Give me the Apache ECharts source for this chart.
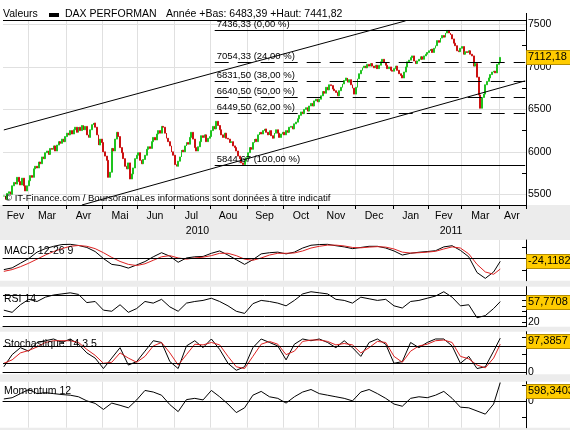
<!DOCTYPE html>
<html>
<head>
<meta charset="utf-8">
<script src="https://cdn.jsdelivr.net/npm/echarts@6/dist/echarts.min.js"></script>
<style>
html, body { margin: 0; padding: 0; background: #ececec; }
#chart { width: 570px; height: 430px; }
</style>
</head>
<body>
<div id="chart"></div>
<script>
var FONT = "'Liberation Sans', Arial, sans-serif";
var GREEN = '#1ec31e', RED = '#cc1111', SIGNAL = '#dd2222', GRIDC = '#e0e0e0';
var monthNames = ['Jan', 'Fev', 'Mar', 'Avr', 'Mai', 'Jun', 'Jul', 'Aou', 'Sep', 'Oct', 'Nov', 'Dec'];

// daily closes, one array per month
var closeFeb10 = [5480, 5440, 5510, 5530, 5500, 5600, 5640, 5620, 5700, 5650, 5610, 5690, 5600, 5540, 5600];
var closeMar10 = [5660, 5720, 5700, 5800, 5830, 5810, 5880, 5860, 5940, 5920, 5990, 6010, 5970, 6040, 6030, 6070, 6010, 6080, 6120, 6100, 6150, 6120, 6180];
var closeApr10 = [6220, 6200, 6250, 6210, 6260, 6290, 6230, 6290, 6250, 6310, 6260, 6300, 6200, 6170, 6260, 6320, 6340, 6290, 6200, 6080, 6150, 6110];
var closeMay10 = [6000, 5950, 5900, 5700, 5760, 6040, 6010, 6150, 6230, 6180, 6050, 5990, 5920, 5830, 5800, 5870, 5680, 5740, 5810, 5920, 5960];
var closeJun10 = [5990, 5900, 5860, 5910, 5960, 6030, 6060, 6040, 6120, 6170, 6140, 6210, 6250, 6220, 6300, 6290, 6220, 6160, 6120, 6070, 6000, 5960];
var closeJul10 = [5850, 5830, 5890, 5940, 6020, 6000, 6070, 6110, 6090, 6170, 6230, 6150, 6050, 6010, 6060, 6120, 6190, 6170, 6200, 6120, 6160, 6180];
var closeAug10 = [6250, 6300, 6270, 6360, 6310, 6260, 6200, 6170, 6220, 6160, 6150, 6110, 6120, 6070, 6050, 6010, 5950, 5920, 5870, 5850, 5890, 5930];
var closeSep10 = [5990, 6050, 6030, 6110, 6150, 6120, 6200, 6230, 6210, 6250, 6270, 6230, 6200, 6250, 6190, 6160, 6220, 6260, 6220, 6170, 6210, 6230];
var closeOct10 = [6200, 6250, 6230, 6290, 6300, 6270, 6330, 6350, 6390, 6430, 6470, 6450, 6500, 6520, 6480, 6540, 6570, 6540, 6600, 6620, 6590];
var closeNov10 = [6620, 6660, 6710, 6690, 6760, 6730, 6790, 6780, 6740, 6720, 6700, 6660, 6720, 6760, 6800, 6840, 6870, 6820, 6850, 6790, 6750, 6680];
var closeDec10 = [6760, 6860, 6920, 6960, 6990, 7010, 6990, 7030, 7010, 7040, 7010, 6990, 7020, 6980, 7020, 7060, 7090, 7050, 7020, 6980, 7000, 6960, 6950];
var closeJan11 = [6980, 7010, 6960, 6920, 6900, 6870, 6940, 7000, 7060, 7080, 7110, 7130, 7070, 7040, 7070, 7090, 7120, 7090, 7130, 7150, 7170];
var closeFeb11 = [7190, 7210, 7170, 7220, 7250, 7310, 7290, 7340, 7370, 7350, 7400, 7430, 7400, 7380, 7330, 7280, 7250, 7190, 7180, 7220];
var closeMar11 = [7240, 7150, 7180, 7170, 7190, 7150, 7130, 7010, 7040, 6880, 6670, 6513.84, 6640, 6680, 6790, 6830, 6870, 6910, 6940, 6950, 6930, 7030, 7050];
var closeApr11 = [7112.18];

// Fibonacci retracement levels and the two channel lines [index, value]
var fibLevels = [7436.33, 7054.33, 6831.50, 6640.50, 6449.50, 5844.67];
var fibPct = ['0,00', '24,00', '38,00', '50,00', '62,00', '100,00'];
var fibStart = 127;
var upperChannel = [[0, 6258], [242, 7543]];
var lowerChannel = [[47, 5374], [314, 6836]];

// indicator values read every 5th session (last point = last session)
var macdLine = [-95, -80, -40, 0, 55, 85, 105, 120, 122, 112, 95, 60, 0, -50, -60, -82, -55, -26, 15, 50, 20, -32, 5, 15,
  18, 45, 65, 30, -10, -50, -10, 40, 50, 55, 40, 55, 90, 114, 120, 122, 110, 100, 85, 95, 105, 105, 90, 65,
  30, 45, 54, 60, 67, 100, 110, 70, 15, -120, -170, -115, -24.1182];
var macdSignal = [-110, -95, -70, -40, -5, 30, 60, 85, 105, 112, 105, 85, 50, 10, -25, -50, -60, -45, -15, 15, 25, 5, -5, 5,
  12, 25, 45, 45, 25, -5, -15, 5, 30, 45, 45, 48, 65, 90, 105, 115, 115, 108, 95, 92, 98, 102, 98, 82,
  55, 47, 50, 55, 62, 82, 100, 90, 40, -50, -115, -135, -90];
var rsiLine = [42, 38, 52, 62, 58, 66, 70, 72, 74, 71, 56, 58, 42, 40, 52, 38, 45, 58, 55, 62, 48, 40, 55, 58,
  60, 64, 58, 50, 40, 36, 54, 60, 58, 55, 50, 60, 72, 76, 74, 72, 62, 60, 55, 66, 63, 60, 62, 50,
  46, 58, 60, 64, 68, 76, 66, 50, 52, 28, 32, 45, 57.7708];
var stochK = [15, 50, 70, 60, 85, 90, 95, 85, 95, 80, 55, 40, 10, 40, 70, 20, 30, 60, 90, 85, 30, 10, 75, 90,
  70, 95, 65, 25, 5, 15, 70, 95, 85, 75, 35, 80, 95, 90, 95, 85, 70, 90, 70, 45, 85, 95, 80, 25,
  30, 85, 70, 85, 95, 95, 75, 25, 45, 10, 15, 60, 97.3857];
var stochD = [25, 35, 55, 62, 72, 85, 90, 90, 90, 85, 65, 48, 25, 28, 55, 40, 28, 45, 75, 85, 55, 20, 50, 80,
  78, 85, 78, 45, 15, 10, 45, 80, 88, 80, 50, 60, 88, 92, 92, 88, 78, 82, 78, 55, 70, 88, 85, 45,
  28, 60, 75, 80, 90, 92, 85, 45, 38, 20, 12, 40, 80];
var momentum = [80, 120, 250, 380, 250, 280, 250, 220, 200, 150, 20, -60, -250, -50, -120, -200, 50, 350, 300, 200, -100, -320, 60, 100,
  50, 350, 150, -80, -350, -200, 200, 320, 150, 100, -50, 150, 300, 380, 250, 200, 150, 100, 20, 300, 380, 250, 100, -80,
  -150, 100, 150, 120, 200, 320, 100, -180, -200, -300, -400, -80, 598.3403];

var closes = [].concat(closeFeb10, closeMar10, closeApr10, closeMay10, closeJun10, closeJul10, closeAug10,
  closeSep10, closeOct10, closeNov10, closeDec10, closeJan11, closeFeb11, closeMar11, closeApr11);

// trading days from 8 Feb 2010; the axis runs on into late April 2011
var days = [];
var d = new Date(2010, 1, 8);
while (days.length < 315) {
  if (d.getDay() != 0 && d.getDay() != 6) days.push(new Date(d.getTime()));
  d.setDate(d.getDate() + 1);
}
function pad(n) { return n < 10 ? '0' + n : '' + n; }
var dates = days.map(function (x) { return x.getFullYear() + '-' + pad(x.getMonth() + 1) + '-' + pad(x.getDate()); });

var monthStart = [], monthMid = [];
var first = 0;
for (var i = 0; i < days.length; i++) {
  monthStart.push(i > 0 && days[i].getMonth() != days[i - 1].getMonth());
  monthMid.push(false);
}
for (i = 1; i <= days.length; i++) {
  if (i == days.length || monthStart[i]) {
    monthMid[Math.floor((first + i - 1) / 2)] = true;
    first = i;
  }
}

var indIdx = [];
for (i = 0; i < 300; i += 5) indIdx.push(i);
indIdx.push(299);

var candles = closes.map(function (c, k) {
  var o = k ? closes[k - 1] : c;
  return [o, c, Math.min(o, c), Math.max(o, c)];
});

function fr(v, n) { return v.toFixed(n).replace('.', ','); }
function pairs(vals) { return indIdx.map(function (k, j) { return [dates[k], vals[j]]; }); }

var grids = [
  {left: 3, right: 44, top: 20.5, height: 184.5},
  {left: 3, right: 44, top: 240, height: 40.7},
  {left: 3, right: 44, top: 286.7, height: 40},
  {left: 3, right: 44, top: 331.7, height: 42.6},
  {left: 3, right: 44, top: 381.7, height: 46}
];

function xAxisFor(gi) {
  var main = gi == 0;
  return {
    type: 'category', gridIndex: gi, data: dates, boundaryGap: true,
    axisLine: {show: true, lineStyle: {color: '#000', width: 1}},
    axisTick: {show: main, length: 4, interval: function (k) { return monthStart[k]; }, lineStyle: {color: '#000'}},
    axisLabel: {
      show: main, interval: function (k) { return monthMid[k]; },
      formatter: function (v) { return monthNames[parseInt(v.slice(5, 7), 10) - 1]; },
      color: '#000', fontSize: 10.5, fontFamily: FONT, margin: 6
    },
    splitLine: {show: true, interval: function (k) { return monthStart[k]; }, lineStyle: {color: GRIDC, width: 1}}
  };
}

function yAxisFor(gi, min, max, ticks, labels) {
  return {
    type: 'value', gridIndex: gi, position: 'right', min: min, max: max,
    axisLine: {show: true, lineStyle: {color: '#000', width: 1}},
    axisTick: {show: true, inside: true, length: 4, customValues: ticks, lineStyle: {color: '#000'}},
    axisLabel: {
      show: labels.length > 0, customValues: labels, margin: 2, color: '#000', fontSize: 10.5, fontFamily: FONT,
      formatter: function (v) { return String(v); }
    },
    splitLine: {show: false}
  };
}

function refLines(vals, color) {
  return {
    silent: true, symbol: 'none', animation: false,
    label: {show: false},
    lineStyle: {color: color || '#000', width: 1, type: 'solid'},
    emphasis: {disabled: true},
    data: vals.map(function (v) { return {yAxis: v}; })
  };
}

function lineSeries(gi, vals, color, marks) {
  var s = {
    type: 'line', xAxisIndex: gi, yAxisIndex: gi, data: pairs(vals), symbol: 'none',
    lineStyle: {color: color, width: 1}, itemStyle: {color: color}, z: 3, silent: true
  };
  if (marks) s.markLine = marks;
  return s;
}

var fibData = fibLevels.map(function (v, k) {
  var solid = k == 0 || k == fibLevels.length - 1;
  return [
    {name: fr(v, 2) + ' (' + fibPct[k] + ' %)', coord: [dates[fibStart], v], lineStyle: {type: solid ? 'solid' : [14, 9]}},
    {coord: [dates[dates.length - 1], v]}
  ];
});
[upperChannel, lowerChannel].forEach(function (c) {
  fibData.push([
    {name: '', coord: [dates[c[0][0]], c[0][1]], label: {show: false}},
    {coord: [dates[c[1][0]], c[1][1]]}
  ]);
});

var chart = echarts.init(document.getElementById('chart'));
chart.setOption({
  animation: false,
  backgroundColor: 'transparent',
  grid: grids,
  xAxis: [0, 1, 2, 3, 4].map(xAxisFor),
  yAxis: [
    yAxisFor(0, 5374, 7547, [5500, 5750, 6000, 6250, 6500, 6750, 7000, 7250, 7500], [5500, 6000, 6500, 7000, 7500]),
    yAxisFor(1, -190, 159, [-100, 100], []),
    yAxisFor(2, 11.5, 85.3, [20, 30, 40, 50, 60, 70], [20]),
    yAxisFor(3, -6.6, 116, [0, 25, 50, 75, 100], [0]),
    yAxisFor(4, -829, 627, [-500, 500], [0])
  ],
  series: [
    {
      type: 'line', xAxisIndex: 0, yAxisIndex: 0, data: [], z: 1,
      markLine: Object.assign(refLines([5500, 6000, 6500, 7000, 7500], GRIDC), {z: 1})
    },
    {
      type: 'candlestick', xAxisIndex: 0, yAxisIndex: 0, data: candles, barWidth: 1.4, silent: true,
      itemStyle: {color: GREEN, color0: RED, borderColor: GREEN, borderColor0: RED, borderWidth: 1},
      markLine: {
        silent: true, symbol: 'none', animation: false,
        lineStyle: {color: '#000', width: 1, type: 'solid'},
        label: {show: true, position: 'insideStartTop', formatter: '{b}', color: '#000', fontSize: 9.5, fontFamily: FONT, distance: [2, 1]},
        emphasis: {disabled: true},
        data: fibData
      }
    },
    lineSeries(1, macdLine, '#000', refLines([0])),
    lineSeries(1, macdSignal, SIGNAL),
    lineSeries(2, rsiLine, '#000', refLines([70, 30])),
    lineSeries(3, stochK, '#000', refLines([75, 25])),
    lineSeries(3, stochD, SIGNAL),
    lineSeries(4, momentum, '#000', refLines([0]))
  ]
});

// panel backgrounds, texts and value boxes
var T = function (x, y, text, size, align) {
  return {type: 'text', x: x, y: y, z: 50, silent: true,
    style: {text: text, fill: '#000', font: (size || 10.5) + 'px ' + FONT, textAlign: align || 'left', textVerticalAlign: 'middle'}};
};
var g = [];
[[0, 205], [240, 40.7], [286.7, 40], [331.7, 42.6], [381.7, 46]].forEach(function (b) {
  g.push({type: 'rect', shape: {x: 0, y: b[0], width: 570, height: b[1]}, style: {fill: '#fff'}, z: -100, silent: true});
});
g.push({type: 'line', shape: {x1: 3, y1: 20.5, x2: 526, y2: 20.5}, style: {stroke: '#000', lineWidth: 1}, z: 50, silent: true});
g.push({type: 'line', shape: {x1: 526.5, y1: 13, x2: 526.5, y2: 21}, style: {stroke: '#000', lineWidth: 1}, z: 50, silent: true});
g.push(T(3, 14, 'Valeurs'));
g.push({type: 'rect', shape: {x: 49, y: 13, width: 10, height: 4}, style: {fill: '#000'}, z: 50, silent: true});
g.push(T(65, 14, 'DAX PERFORMAN'));
g.push(T(166, 14, 'Année +Bas: 6483,39 +Haut: 7441,82'));
g.push(T(5, 198.5, '© IT-Finance.com / BoursoramaLes informations sont données à titre indicatif', 9.5));
g.push(T(197.5, 231, '2010', 10.5, 'center'));
g.push(T(451, 231, '2011', 10.5, 'center'));
g.push(T(4, 251, 'MACD 12-26 9'));
g.push(T(4, 299, 'RSI 14'));
g.push(T(4, 344.5, 'Stochastique 14 3 5'));
g.push(T(4, 391, 'Momentum 12'));

// darker year separator (first session of 2011)
var band = (570 - 44 - 3) / dates.length;
var janX = Math.round(chart.convertToPixel({xAxisIndex: 0}, dates[235]) - band / 2) + 0.5;
grids.forEach(function (gr) {
  g.push({type: 'line', shape: {x1: janX, y1: gr.top, x2: janX, y2: gr.top + gr.height}, style: {stroke: '#a8a8a8', lineWidth: 1}, z: -50, silent: true});
});

var boxes = [
  [0, closes[closes.length - 1], 2],
  [1, macdLine[macdLine.length - 1], 4],
  [2, rsiLine[rsiLine.length - 1], 4],
  [3, stochK[stochK.length - 1], 4],
  [4, momentum[momentum.length - 1], 4]
];
boxes.forEach(function (b) {
  var cy = chart.convertToPixel({yAxisIndex: b[0]}, b[1]);
  cy = Math.max(cy, grids[b[0]].top + 9);
  g.push({type: 'rect', shape: {x: 526.5, y: Math.round(cy - 7) + 0.5, width: 46, height: 14},
    style: {fill: '#ffcc00', stroke: '#b58d00', lineWidth: 1}, z: 60, silent: true});
  g.push(Object.assign(T(528, cy, fr(b[1], b[2]), 11), {z: 61}));
});

chart.setOption({graphic: {elements: g}});
</script>
</body>
</html>
